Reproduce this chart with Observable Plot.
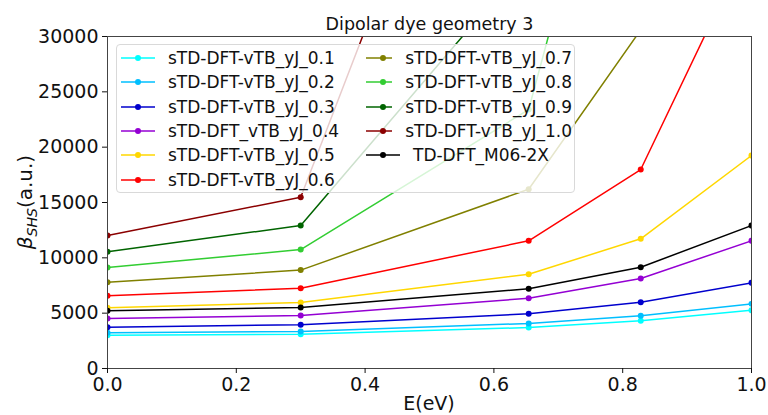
<!DOCTYPE html>
<html>
<head>
<meta charset="utf-8">
<script src="https://cdn.jsdelivr.net/npm/d3@7"></script>
<script src="https://cdn.jsdelivr.net/npm/@observablehq/plot@0.6"></script>
<style>
  html, body { margin: 0; padding: 0; background: #fff; }
  #chart { position: relative; width: 768px; height: 415px; font-family: "DejaVu Sans", sans-serif; }
  #legend { position: absolute; left: 116px; top: 44px; width: 459px; height: 149px;
    background: rgba(255,255,255,0.8); border: 1px solid #d9d9d9; border-radius: 4px; box-sizing: border-box;
    display: grid; grid-template-columns: 245px 210px; grid-auto-flow: column; grid-template-rows: repeat(6, 24.3px);
    padding-top: 1px; font-size: 17px; color: #111; }
  .item { display: flex; align-items: center; white-space: nowrap; }
  .item svg { margin-left: 4px; margin-right: 13px; }
</style>
</head>
<body>
<div id="chart"></div>
<script>
const energies = [0, 0.3, 0.654, 0.828, 1.0];
const seriesNames = [
  "sTD-DFT-vTB_yJ_0.1", "sTD-DFT-vTB_yJ_0.2", "sTD-DFT-vTB_yJ_0.3", "sTD-DFT_vTB_yJ_0.4",
  "sTD-DFT-vTB_yJ_0.5", "sTD-DFT-vTB_yJ_0.6", "sTD-DFT-vTB_yJ_0.7", "sTD-DFT-vTB_yJ_0.8",
  "sTD-DFT-vTB_yJ_0.9", "sTD-DFT-vTB_yJ_1.0", "TD-DFT_M06-2X"
];
const seriesColors = ["#00ffff", "#00bfff", "#0000cd", "#9400d3", "#ffd700", "#ff0000",
  "#808000", "#32cd32", "#006400", "#8b0000", "#000000"];
const yJ01 = [3010, 3100, 3700, 4310, 5270];
const yJ02 = [3225, 3340, 4070, 4760, 5840];
const yJ03 = [3735, 3950, 4940, 5990, 7740];
const yJ04 = [4520, 4790, 6350, 8130, 11540];
const yJ05 = [5480, 5960, 8520, 11720, 19250];
const yJ06 = [6570, 7260, 11540, 17980, 38900];
const yJ07 = [7800, 8890, 16200, 30600, 48000];
const yJ08 = [9120, 10750, 23400, 61000, 90000];
const yJ09 = [10540, 12920, 37000, 70000, 110000];
const yJ10 = [12020, 15480, 69000, 120000, 180000];
const m062x = [5210, 5510, 7200, 9150, 12920];
const seriesValues = [yJ01, yJ02, yJ03, yJ04, yJ05, yJ06, yJ07, yJ08, yJ09, yJ10, m062x];
const yTicks = [0, 5000, 10000, 15000, 20000, 25000, 30000];
const xTicks = [0, 0.2, 0.4, 0.6, 0.8, 1.0];
const title = "Dipolar dye geometry 3";

const rows = [];
seriesNames.forEach((name, i) => {
  seriesValues[i].forEach((v, j) => rows.push({series: name, E: energies[j], beta: v}));
});

const plot = Plot.plot({
  width: 768,
  height: 415,
  marginLeft: 107,
  marginRight: 17,
  marginTop: 36,
  marginBottom: 47,
  style: {fontFamily: "DejaVu Sans, sans-serif", fontSize: "19px", color: "#111", background: "#fff"},
  x: {domain: [0, 1], ticks: xTicks, tickFormat: d3.format(".1f"), label: null},
  y: {domain: [0, 30000], ticks: yTicks, tickFormat: d => String(d), label: null},
  color: {domain: seriesNames, range: seriesColors},
  marks: [
    Plot.line(rows, {x: "E", y: "beta", z: "series", stroke: "series", strokeWidth: 1.5, clip: true}),
    Plot.dot(rows, {x: "E", y: "beta", fill: "series", r: 3, clip: true}),
    Plot.frame({stroke: "#444", strokeWidth: 1}),
    Plot.axisX({ticks: xTicks, tickFormat: d3.format(".1f"), tickSize: 5, tickPadding: 4, fontSize: 19, label: null}),
    Plot.axisY({ticks: yTicks, tickFormat: d => String(d), tickSize: 5, tickPadding: 4, fontSize: 19, label: null}),
    Plot.text([title], {frameAnchor: "top", dy: -19, fontSize: 17.5, fill: "#111"})
  ]
});

const chart = document.getElementById("chart");
chart.appendChild(plot);

const svg = d3.select(plot);
// x label
svg.append("text").attr("x", 429).attr("y", 410).attr("text-anchor", "middle")
  .attr("font-size", 19).attr("fill", "#111").text("E(eV)");
// y label with subscript
const yl = svg.append("text").attr("transform", "translate(32,202) rotate(-90)")
  .attr("text-anchor", "middle").attr("font-size", 20).attr("fill", "#111");
yl.append("tspan").attr("font-style", "italic").text("β");
yl.append("tspan").attr("font-style", "italic").attr("font-size", 14).attr("dy", 5).text("SHS");
yl.append("tspan").attr("dy", -5).text("(a.u.)");

// legend
const legend = document.createElement("div");
legend.id = "legend";
seriesNames.forEach((name, i) => {
  const item = document.createElement("div");
  item.className = "item";
  const c = seriesColors[i];
  item.innerHTML = `<svg width="34" height="10"><line x1="0" y1="5" x2="34" y2="5" stroke="${c}" stroke-width="1.5"/><circle cx="17" cy="5" r="3" fill="${c}"/></svg><span>${name}</span>`;
  legend.appendChild(item);
});
chart.appendChild(legend);
</script>
</body>
</html>
